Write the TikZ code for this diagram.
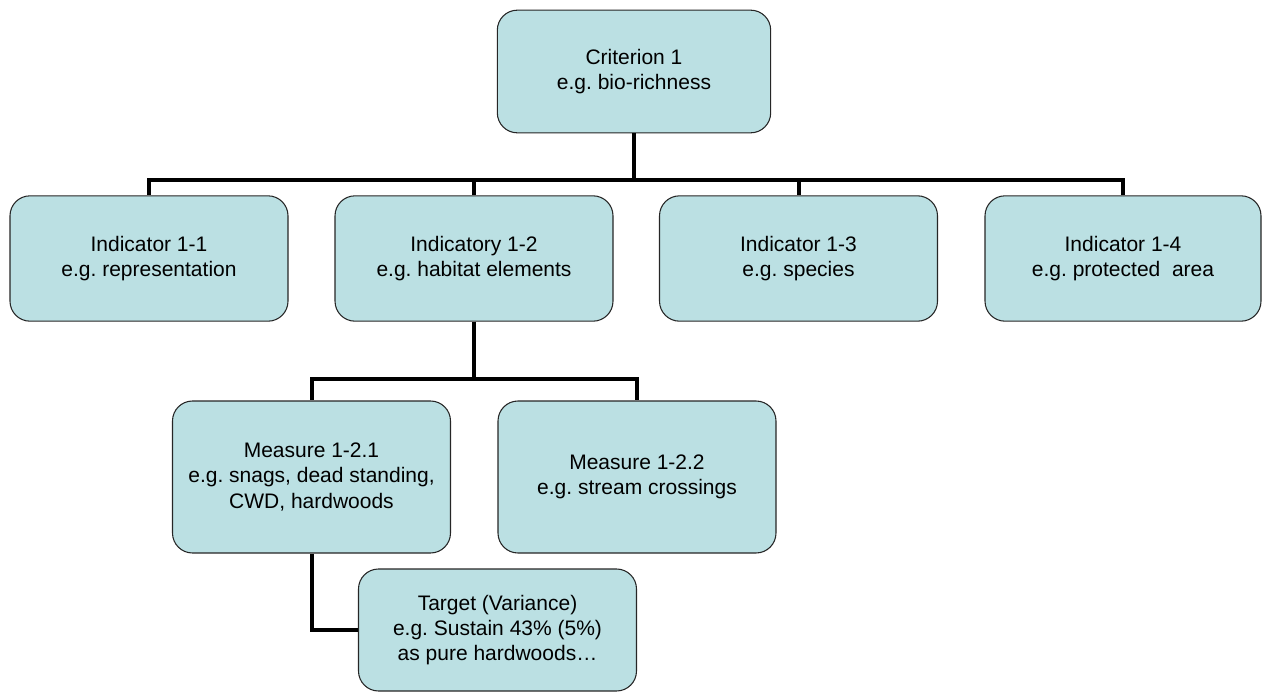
\documentclass[tikz,border=0pt]{standalone}
\usepackage{fontspec}
\setmainfont{Liberation Sans}
\definecolor{boxblue}{RGB}{187,224,227}
\frenchspacing
\begin{document}
\begin{tikzpicture}[x=0.75pt, y=-0.75pt,
        box/.style={draw=black!85, line width=0.8pt, fill=boxblue, rounded corners=15pt,
            align=center, inner sep=0pt, minimum width=208.5pt, minimum height=94pt,
            font=\fontsize{15.75}{19}\selectfont},
        link/.style={line width=3pt}]
    \useasboundingbox (0,0) rectangle (1262,692);

    % Criterion
    \node[box, minimum width=205pt, minimum height=92pt] (crit) at (634,71.5) {Criterion 1\\e.g. bio-richness};

    % Indicators
    \node[box] (ind1) at (149,258.5) {Indicator 1-1\\e.g. representation};
    \node[box] (ind2) at (474,258.5) {Indicatory 1-2\\e.g. habitat elements};
    \node[box] (ind3) at (798.5,258.5) {Indicator 1-3\\e.g. species};
    \node[box, minimum width=207pt] (ind4) at (1123,258.5) {Indicator 1-4\\e.g. protected~ area};

    % Measures
    \node[box, minimum height=114pt] (meas1) at (311.5,477) {Measure 1-2.1\\e.g. snags, dead standing,\\CWD, hardwoods};
    \node[box, minimum height=114pt] (meas2) at (637,477) {Measure 1-2.2\\e.g. stream crossings};

    % Target
    \node[box, minimum height=91.5pt] (target) at (497.5,630) {Target (Variance)\\e.g. Sustain 43\% (5\%)\\as pure hardwoods…};

    % Links
    \foreach \n in {ind1,ind2,ind3,ind4} { \draw[link] (crit.south) -- ++(0,47) -| (\n.north); }
    \foreach \n in {meas1,meas2} { \draw[link] (ind2.south) -- ++(0,57) -| (\n.north); }
    \draw[link] (meas1.south) |- (target.west);
\end{tikzpicture}
\end{document}
